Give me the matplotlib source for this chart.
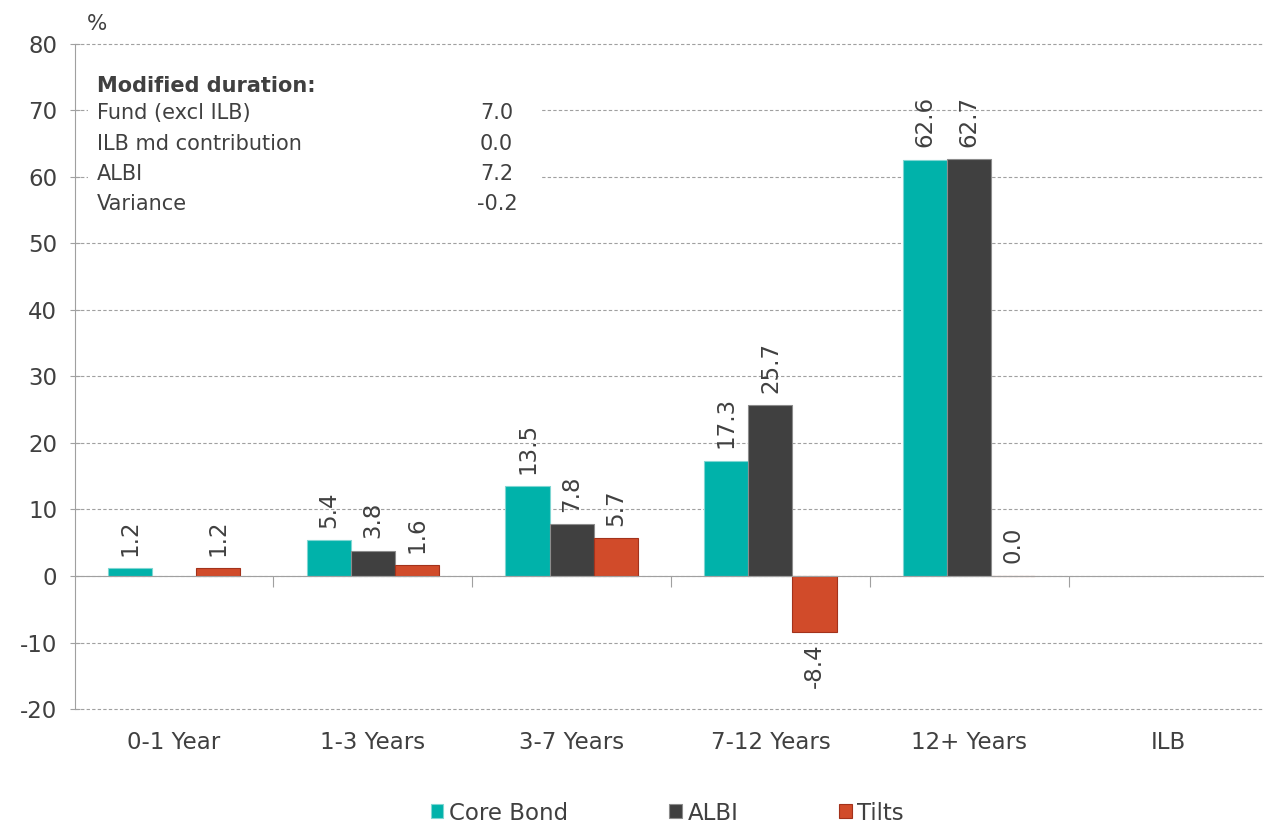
import numpy as np
import matplotlib.pyplot as plt
import matplotlib.transforms as mtransforms
from matplotlib.patches import Rectangle

categories = ['0-1 Year', '1-3 Years', '3-7 Years', '7-12 Years', '12+ Years', 'ILB']
core_bond = [1.2, 5.4, 13.5, 17.3, 62.6, np.nan]
albi = [np.nan, 3.8, 7.8, 25.7, 62.7, np.nan]
tilts = [1.2, 1.6, 5.7, -8.4, 0.0, np.nan]

series_names = ['Core Bond', 'ALBI', 'Tilts']
colors = ['#00B2AA', '#404040', '#D14B2A']
edges = ['#7FD6D2', '#8C8C8C', '#A3321B']

md_labels = ['Fund (excl ILB)', 'ILB md contribution', 'ALBI', 'Variance']
md_values = ['7.0', '0.0', '7.2', '-0.2']

txt = '#404040'
fs = 16.5
plt.rcParams['font.family'] = 'DejaVu Sans'
plt.rcParams['axes.unicode_minus'] = False

fig = plt.figure(figsize=(12.64, 8.25), dpi=100)
ax = fig.add_axes([0.059, 0.1406, 0.941, 0.8061])

x = np.arange(len(categories))
w = 0.222
for k, (vals, name) in enumerate(zip([core_bond, albi, tilts], series_names)):
    pos = x + (k - 1) * w
    ax.bar(pos, vals, w, color=colors[k], edgecolor=edges[k], linewidth=0.8,
           label=name, zorder=3)
    for xi, v in zip(pos, vals):
        if np.isnan(v):
            continue
        if v >= 0:
            ax.annotate(f'{v:.1f}', (xi, v), xytext=(0, 9), textcoords='offset points',
                        rotation=90, ha='center', va='bottom', fontsize=fs, color=txt)
        else:
            ax.annotate(f'{v:.1f}', (xi, v), xytext=(0, -8), textcoords='offset points',
                        rotation=90, ha='center', va='top', fontsize=fs, color=txt)

ax.set_xlim(-0.5, 5.483)
ax.set_ylim(-20, 80)
ax.set_yticks(np.arange(-20, 81, 10))
ax.yaxis.grid(True, linestyle=(0, (3, 2)), color='#A0A0A0', linewidth=0.8, zorder=0)
for gl in ax.get_ygridlines():
    gl.set_clip_on(False)
ax.set_axisbelow(True)
ax.tick_params(axis='y', labelsize=fs, labelcolor=txt, color='#A0A0A0', length=7, direction='inout', pad=9)

for s in ['top', 'right']:
    ax.spines[s].set_visible(False)
ax.spines['left'].set_color('#A0A0A0')
ax.spines['bottom'].set_position(('data', 0))
ax.spines['bottom'].set_color('#A0A0A0')
ax.spines['bottom'].set_zorder(4)

ax.set_xticks(x[:-1] + 0.5)
ax.set_xticklabels([])
ax.tick_params(axis='x', color='#A0A0A0', length=8, direction='out')

trans = mtransforms.blended_transform_factory(ax.transData, ax.transAxes)
for xi, c in zip(x, categories):
    ax.text(xi, -0.051, c, transform=trans, ha='center', va='center', fontsize=fs, color=txt)

# percent label
fig.text(97 / 1264, 1 - 24 / 825, '%', fontsize=15.5, color=txt, ha='center', va='center')

# modified duration box
ax.add_patch(Rectangle((0.011, 0.743), 0.38, 0.218, transform=ax.transAxes,
                       facecolor='white', edgecolor='none', zorder=1))
fx = lambda px: px / 1264
fy = lambda py: 1 - py / 825
fig.text(fx(97), fy(86), 'Modified duration:', fontsize=15, fontweight='bold', color=txt, va='center')
for i, (lab, val) in enumerate(zip(md_labels, md_values)):
    yy = 113 + i * 30.5
    fig.text(fx(97), fy(yy), lab, fontsize=15, color=txt, va='center')
    fig.text(fx(480) if not val.startswith('-') else fx(477), fy(yy), val, fontsize=15, color=txt, va='center')

handles, labels = ax.get_legend_handles_labels()
fig.legend(handles, labels, loc='center', bbox_to_anchor=(0.528, 1 - 813 / 825), ncol=3,
           frameon=False, fontsize=fs, handlelength=0.55, handleheight=0.55, handletextpad=0.25,
           columnspacing=4.4, labelcolor=txt)

fig.savefig('out.png', dpi=100)
